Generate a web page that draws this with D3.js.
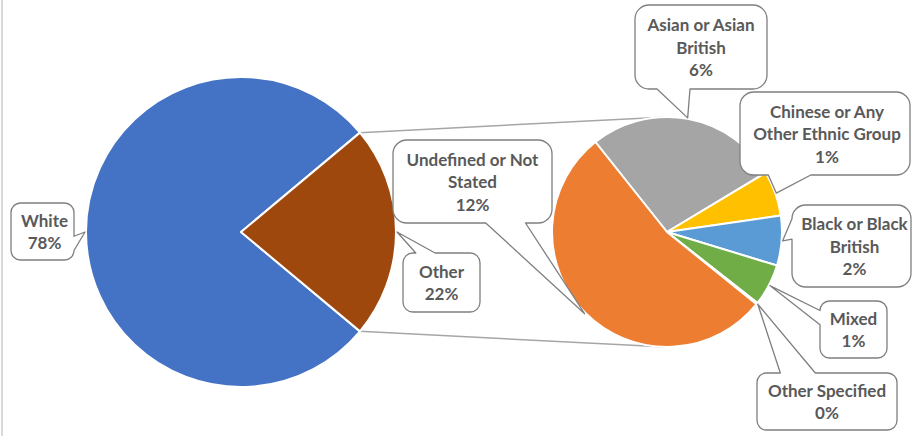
<!DOCTYPE html>
<html><head><meta charset="utf-8">
<script src="https://cdn.jsdelivr.net/npm/d3@7"></script>
<style>html,body{margin:0;padding:0;background:#fff;} svg{display:block}</style>
</head><body><svg id="c" width="912" height="436"></svg>
<script>
// ---- data ----
const mainCategories = ["White", "Other"];
const mainValues = [77.85, 22.15];
const subCategories = ["Asian or Asian British", "Chinese or Any Other Ethnic Group", "Black or Black British", "Mixed", "Other Specified", "Undefined or Not Stated"];
const subValues = [6.0, 1.4, 1.55, 1.3, 0.05, 11.85];
const mainColors = ["#4472C4", "#9E480E"];
const subColors = ["#A5A5A5", "#FFC000", "#5B9BD5", "#70AD47", "#264478", "#ED7D31"];

// ---- layout (positions / styles) ----
const W = 912, H = 436;
const mainC = {x: 241, y: 232, r: 155};
const subC = {x: 667, y: 232, r: 115};
const boxLayout = {
  "White": {x: 11, y: 203, w: 63, h: 57, wrap: 55, tx: 2},
  "Other": {x: 403, y: 253, w: 77, h: 59, wrap: 65, tx: 0},
  "Undefined or Not Stated": {x: 393, y: 140, w: 159, h: 83, wrap: 150, tx: 0},
  "Asian or Asian British": {x: 635, y: 5, w: 132, h: 84, wrap: 124, tx: 0},
  "Chinese or Any Other Ethnic Group": {x: 740, y: 92, w: 170, h: 83, wrap: 150, tx: 2},
  "Black or Black British": {x: 792, y: 205, w: 119, h: 82, wrap: 116, tx: 3},
  "Mixed": {x: 820, y: 301, w: 67, h: 57, wrap: 60, tx: 0},
  "Other Specified": {x: 757, y: 373, w: 140, h: 57, wrap: 134, tx: 0}
};
const FONT = "Lato, 'Open Sans', sans-serif";
const FS = 17, LH = 22.5;
const textColor = "#595959", boxStroke = "#7F7F7F", lineColor = "#A6A6A6";
const pct = d3.format(".0%");

const svg = d3.select("#c");
svg.append("rect").attr("x", 0).attr("y", 0).attr("width", W).attr("height", H).attr("fill", "#fff");
svg.append("rect").attr("x", 1).attr("y", 0).attr("width", 2).attr("height", H).attr("fill", "#D9D9D9");

const total = d3.sum(mainValues);
const otherFrac = mainValues[1] / total;

// main pie: "Other" centred on the right (3 o'clock)
const mainPie = d3.pie().sort(null).value(d => d.v)
  .startAngle(Math.PI / 2 + otherFrac * Math.PI)
  .endAngle(Math.PI / 2 + otherFrac * Math.PI + 2 * Math.PI);
const mainData = mainPie(mainCategories.map((c, i) => ({c, v: mainValues[i]})));
const mainColor = d3.scaleOrdinal().domain(mainCategories).range(mainColors);

const subStart = -38.5 * Math.PI / 180;
const subPie = d3.pie().sort(null).value(d => d.v).startAngle(subStart).endAngle(subStart + 2 * Math.PI);
const subData = subPie(subCategories.map((c, i) => ({c, v: subValues[i]})));
const subColor = d3.scaleOrdinal().domain(subCategories).range(subColors);

// connector lines (from Other slice edges to top/bottom of secondary pie)
const otherArc = mainData[1];
const pt = (c, r, a) => [c.x + r * Math.sin(a), c.y - r * Math.cos(a)];
const p1 = pt(mainC, mainC.r, otherArc.startAngle), p2 = pt(mainC, mainC.r, otherArc.endAngle);
svg.append("line").attr("x1", p1[0]).attr("y1", p1[1]).attr("x2", subC.x).attr("y2", subC.y - subC.r)
  .attr("stroke", lineColor).attr("stroke-width", 1.5);
svg.append("line").attr("x1", p2[0]).attr("y1", p2[1]).attr("x2", subC.x).attr("y2", subC.y + subC.r)
  .attr("stroke", lineColor).attr("stroke-width", 1.5);

const mainArc = d3.arc().innerRadius(0).outerRadius(mainC.r);
svg.append("g").attr("transform", `translate(${mainC.x},${mainC.y})`)
  .selectAll("path").data(mainData).join("path")
  .attr("d", mainArc).attr("fill", d => mainColor(d.data.c))
  .attr("stroke", "#fff").attr("stroke-width", 2).attr("stroke-linejoin", "round");

const subArc = d3.arc().innerRadius(0).outerRadius(subC.r);
svg.append("g").attr("transform", `translate(${subC.x},${subC.y})`)
  .selectAll("path").data(subData).join("path")
  .attr("d", subArc).attr("fill", d => subColor(d.data.c))
  .attr("stroke", "#fff").attr("stroke-width", 2).attr("stroke-linejoin", "round");

// callouts
function calloutPath(b, tip) {
  const {x, y, w, h} = b;
  const r = Math.min(w, h) / 6;
  const cx = x + w / 2, cy = y + h / 2;
  const dx = tip[0] - cx, dy = tip[1] - cy;
  let side;
  if (Math.abs(dx) * h > Math.abs(dy) * w) side = dx < 0 ? "left" : "right";
  else side = dy < 0 ? "top" : "bottom";
  const fx = dx < 0 ? [2 / 12, 5 / 12] : [7 / 12, 10 / 12];
  const fy = dy < 0 ? [2 / 12, 5 / 12] : [7 / 12, 10 / 12];
  const p = d3.path();
  p.moveTo(x + r, y);
  if (side === "top") { p.lineTo(x + w * fx[0], y); p.lineTo(tip[0], tip[1]); p.lineTo(x + w * fx[1], y); }
  p.lineTo(x + w - r, y);
  p.arcTo(x + w, y, x + w, y + r, r);
  if (side === "right") { p.lineTo(x + w, y + h * fy[0]); p.lineTo(tip[0], tip[1]); p.lineTo(x + w, y + h * fy[1]); }
  p.lineTo(x + w, y + h - r);
  p.arcTo(x + w, y + h, x + w - r, y + h, r);
  if (side === "bottom") { p.lineTo(x + w * fx[1], y + h); p.lineTo(tip[0], tip[1]); p.lineTo(x + w * fx[0], y + h); }
  p.lineTo(x + r, y + h);
  p.arcTo(x, y + h, x, y + h - r, r);
  if (side === "left") { p.lineTo(x, y + h * fy[1]); p.lineTo(tip[0], tip[1]); p.lineTo(x, y + h * fy[0]); }
  p.lineTo(x, y + r);
  p.arcTo(x, y, x + r, y, r);
  p.closePath();
  return p.toString();
}

const measurer = svg.append("text").attr("font-family", FONT).attr("font-size", FS).attr("font-weight", 700).attr("visibility", "hidden");
function wrap(str, maxW) {
  const words = str.split(" ");
  const lines = [];
  let cur = "";
  words.forEach(wd => {
    const t = cur ? cur + " " + wd : wd;
    measurer.text(t);
    if (cur && measurer.node().getComputedTextLength() > maxW) { lines.push(cur); cur = wd; }
    else cur = t;
  });
  if (cur) lines.push(cur);
  return lines;
}

const labels = [];
mainData.forEach(d => labels.push({d, c: mainC, cat: d.data.c}));
subData.forEach(d => labels.push({d, c: subC, cat: d.data.c}));

const lg = svg.append("g");
labels.forEach(L => {
  const b = boxLayout[L.cat];
  const mid = (L.d.startAngle + L.d.endAngle) / 2;
  const tip = pt(L.c, L.c.r + 1, mid);
  lg.append("path").attr("d", calloutPath(b, tip))
    .attr("fill", "#fff").attr("stroke", boxStroke).attr("stroke-width", 1.3).attr("stroke-linejoin", "round");
  const lines = wrap(L.cat, b.wrap).concat([pct(L.d.data.v / total)]);
  const cx = b.x + b.w / 2 + b.tx, cy = b.y + b.h / 2;
  const y0 = cy - (lines.length - 1) * LH / 2 + 6.5;
  const t = lg.append("text").attr("font-family", FONT).attr("font-size", FS).attr("font-weight", 700)
    .attr("fill", textColor).attr("text-anchor", "middle");
  lines.forEach((ln, i) => t.append("tspan").attr("x", cx).attr("y", y0 + i * LH).text(ln));
});
measurer.remove();
</script>
</body></html>
